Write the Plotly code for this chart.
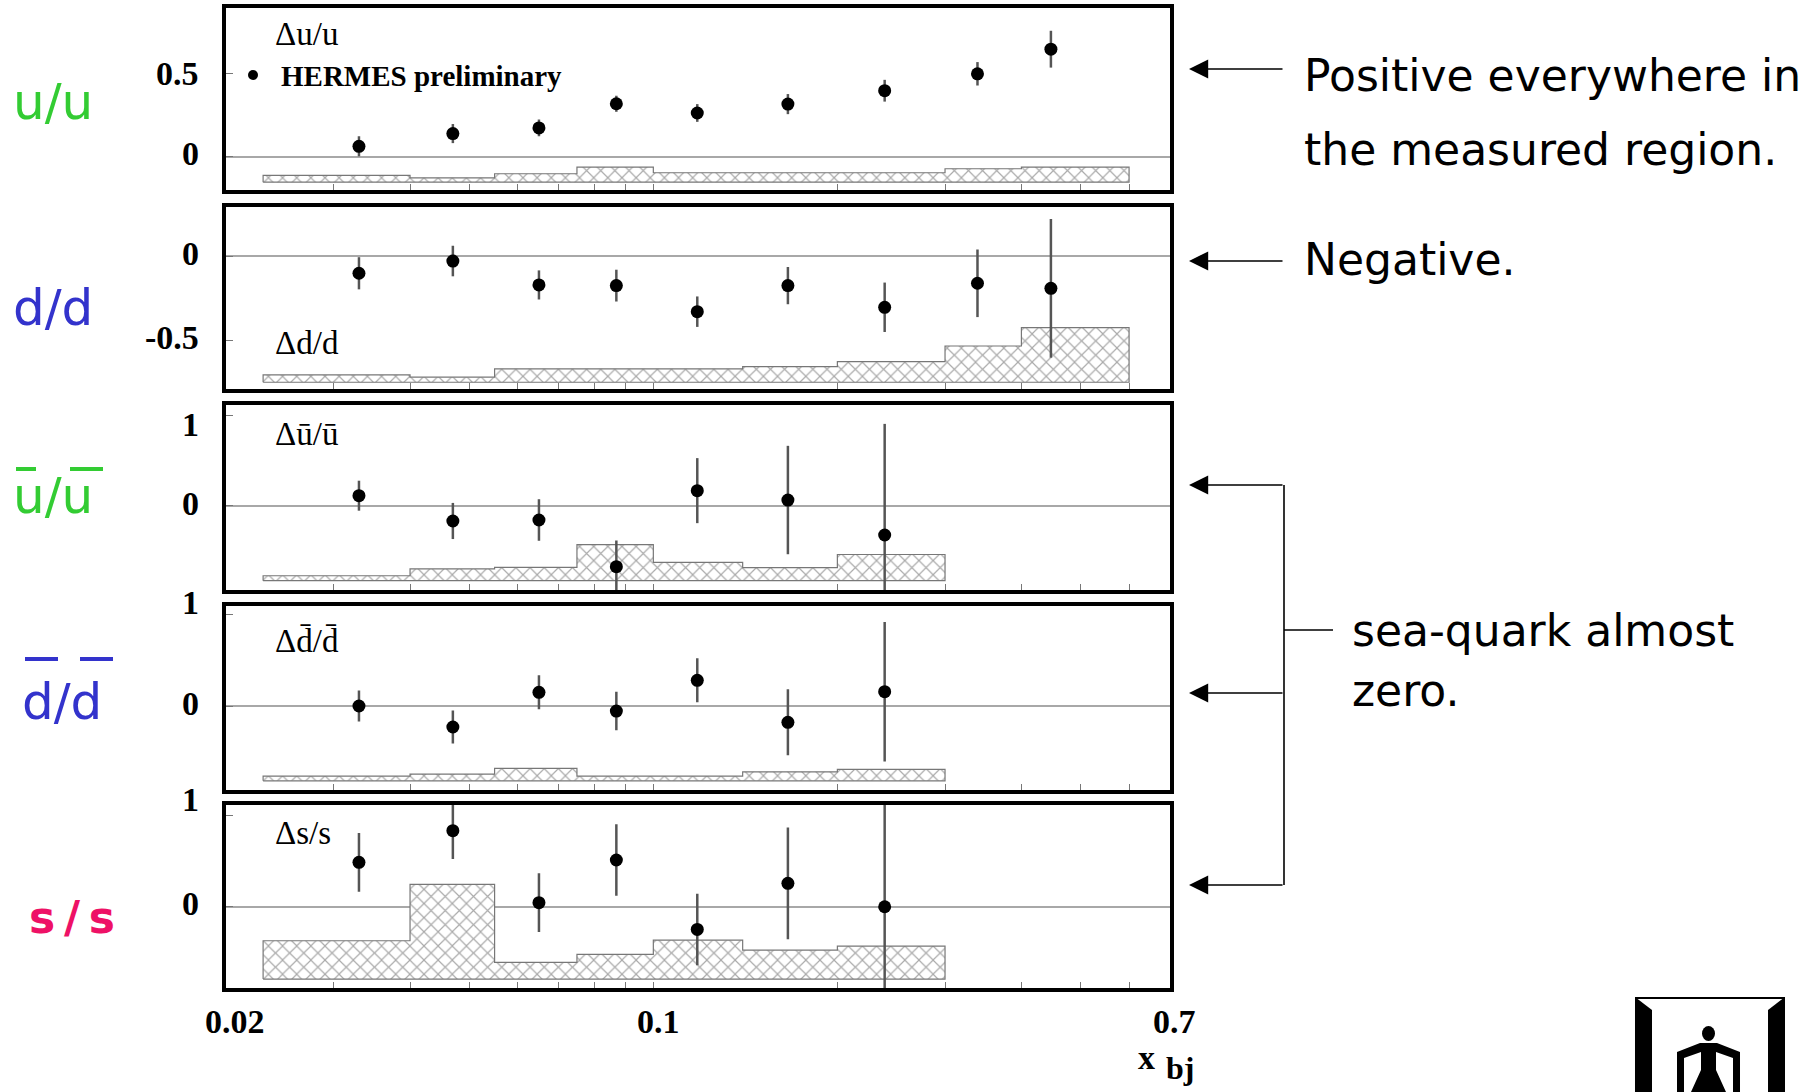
import math
import plotly.graph_objects as go

# ---------------- data ----------------
x_bins = [0.033, 0.047, 0.065, 0.087, 0.118, 0.166, 0.239, 0.339, 0.447]
bin_edges = [0.023, 0.04, 0.055, 0.075, 0.1, 0.14, 0.2, 0.3, 0.4, 0.6]

du_u = [0.063, 0.139, 0.173, 0.317, 0.262, 0.315, 0.395, 0.496, 0.643]
du_u_err = [0.06, 0.057, 0.05, 0.048, 0.053, 0.06, 0.065, 0.07, 0.11]
du_u_sys = [0.04, 0.026, 0.05, 0.09, 0.056, 0.056, 0.056, 0.08, 0.09]

dd_d = [-0.102, -0.03, -0.171, -0.175, -0.329, -0.175, -0.303, -0.161, -0.191]
dd_d_err = [0.095, 0.09, 0.086, 0.094, 0.09, 0.11, 0.146, 0.2, 0.41]
dd_d_sys = [0.043, 0.03, 0.079, 0.079, 0.079, 0.092, 0.122, 0.214, 0.323]

dub_ub = [0.114, -0.166, -0.155, -0.672, 0.17, 0.066, -0.321]
dub_ub_err = [0.166, 0.2, 0.23, 0.29, 0.36, 0.6, 1.23]
dub_ub_sys = [0.055, 0.13, 0.148, 0.4, 0.203, 0.144, 0.29]

ddb_db = [0.0, -0.229, 0.149, -0.055, 0.28, -0.178, 0.156]
ddb_db_err = [0.17, 0.18, 0.185, 0.21, 0.24, 0.36, 0.76]
ddb_db_sys = [0.051, 0.073, 0.135, 0.051, 0.051, 0.098, 0.124]

ds_s = [0.484, 0.83, 0.044, 0.51, -0.247, 0.255, 0.0]
ds_s_err = [0.32, 0.31, 0.32, 0.39, 0.39, 0.61, 1.2]
ds_s_sys = [0.418, 1.033, 0.183, 0.27, 0.425, 0.316, 0.36]

sys_band_base = [-0.151, -0.746, -0.827, -0.815, -0.789]

panel_names = ["\u0394u/u", "\u0394d/d", "\u0394\u016b/\u016b", "\u0394d\u0304/d\u0304", "\u0394s/s"]
y_ranges = [[-0.198, 0.889], [-0.786, 0.292], [-0.93, 1.118], [-0.91, 1.09], [-0.886, 1.115]]
y_ticks = [[0, 0.5], [0, -0.5], [0, 1], [0, 1], [0, 1]]
y_tick_text = [["0", "0.5"], ["0", "-0.5"], ["0", "1"], ["0", "1"], ["0", "1"]]
x_tick_labels = [0.02, 0.1, 0.7]
x_minor_ticks = [0.02, 0.03, 0.04, 0.05, 0.06, 0.07, 0.08, 0.09, 0.1, 0.2, 0.3, 0.4, 0.5, 0.6, 0.7]

values = [du_u, dd_d, dub_ub, ddb_db, ds_s]
errors = [du_u_err, dd_d_err, dub_ub_err, ddb_db_err, ds_s_err]
systs = [du_u_sys, dd_d_sys, dub_ub_sys, ddb_db_sys, ds_s_sys]

# ---------------- layout geometry (pixels) ----------------
W, H = 1810, 1092
def px(x):
    return x / W
def py(y):
    return 1 - y / H

panel_px = [(8, 190), (206.6, 389), (405, 590), (606, 789.5), (804.5, 988)]
x_dom = [px(226), px(1170)]

fig = go.Figure()
SERIF = "Liberation Serif"

for i in range(5):
    ax = "" if i == 0 else str(i + 1)
    n = len(values[i])
    xs = x_bins[:n]
    edges = bin_edges[:n + 1]
    base = sys_band_base[i]
    # systematic band polygon
    bx, by = [edges[0]], [base]
    for k in range(n):
        bx += [edges[k], edges[k + 1]]
        by += [base + systs[i][k], base + systs[i][k]]
    bx += [edges[n], edges[0]]
    by += [base, base]
    fig.add_trace(go.Scatter(
        x=bx, y=by, mode="lines", fill="toself",
        line=dict(color="#777777", width=1.2),
        fillcolor="rgba(0,0,0,0)",
        fillpattern=dict(shape="x", fgcolor="#555555", bgcolor="white", size=10, solidity=0.22),
        xaxis="x" + ax, yaxis="y" + ax, showlegend=False, hoverinfo="skip"))
    fig.add_trace(go.Scatter(
        x=xs, y=values[i], mode="markers",
        marker=dict(color="black", size=13, symbol="circle"),
        error_y=dict(type="data", array=errors[i], visible=True, color="#555555", thickness=2.5, width=0),
        xaxis="x" + ax, yaxis="y" + ax, showlegend=False, cliponaxis=True))

    top, bot = panel_px[i]
    fig.layout["xaxis" + ax] = dict(
        type="log", domain=x_dom, range=[math.log10(0.02), math.log10(0.7)],
        anchor="y" + ax, showgrid=False, zeroline=False,
        showline=True, mirror=True, linewidth=4, linecolor="black",
        ticks="inside", tickvals=x_minor_ticks, ticklen=6, tickcolor="#777", tickwidth=1,
        showticklabels=False)
    fig.layout["yaxis" + ax] = dict(
        domain=[py(bot), py(top)], range=y_ranges[i], anchor="x" + ax,
        showgrid=False, zeroline=True, zerolinecolor="#a8a8a8", zerolinewidth=1.5,
        showline=True, mirror=True, linewidth=4, linecolor="black",
        ticks="inside", tickvals=y_ticks[i], ticklen=7, tickcolor="#777",
        showticklabels=False)

annotations = []
# y tick labels (placed like the original)
ytick_shift = [[3, 0], [3, 3], [2, -9], [3, 12], [3, 16]]
for i in range(5):
    ax = "" if i == 0 else str(i + 1)
    for v, t, s in zip(y_ticks[i], y_tick_text[i], ytick_shift[i]):
        annotations.append(dict(xref="paper", yref="y" + ax, x=px(201), y=v, yshift=s,
                                text=t, showarrow=False, xanchor="right", yanchor="middle",
                                font=dict(family=SERIF, size=34, color="black", weight="bold")))
# x tick labels
xshift = [9, 5, 4]
for v, s in zip(x_tick_labels, xshift):
    annotations.append(dict(xref="x5", yref="paper", x=math.log10(v), y=py(1021), xshift=s,
                            text=str(v), showarrow=False, xanchor="center", yanchor="middle",
                            font=dict(family=SERIF, size=34, color="black", weight="bold")))
annotations.append(dict(xref="paper", yref="paper", x=px(1146), y=py(1057), text="x",
                        xanchor="center", yanchor="middle", showarrow=False,
                        font=dict(family=SERIF, size=34, color="black", weight="bold")))
annotations.append(dict(xref="paper", yref="paper", x=px(1180), y=py(1068), text="bj",
                        xanchor="center", yanchor="middle", showarrow=False,
                        font=dict(family=SERIF, size=32, color="black", weight="bold")))

# panel labels
label_y = [34, 343, 434, 641, 833]
for name, yy in zip(panel_names, label_y):
    annotations.append(dict(xref="paper", yref="paper", x=px(273), y=py(yy), text=name,
                            showarrow=False, xanchor="left", yanchor="middle",
                            font=dict(family=SERIF, size=33, color="black")))
annotations.append(dict(xref="paper", yref="paper", x=px(279), y=py(76), text="HERMES preliminary",
                        showarrow=False, xanchor="left", yanchor="middle",
                        font=dict(family=SERIF, size=29, color="black", weight="bold")))

# left coloured labels
green, blue, pink = "#33cc33", "#3333cc", "#ee1166"
left_labels = [("u/u", 53, 102, green), ("d/d", 53, 308, blue), ("u/u", 53, 496, green),
               ("d/d", 62, 702, blue), ("s\u2009/\u2009s", 72, 917, pink)]
for t, xx, yy, c in left_labels:
    annotations.append(dict(xref="paper", yref="paper", x=px(xx), y=py(yy), text=t,
                            showarrow=False, xanchor="center", yanchor="middle",
                            font=dict(family="DejaVu Sans", size=44 if c == pink else 50, color=c,
                                      weight="bold" if c == pink else "normal")))

# right side text
right_text = [("Positive everywhere in", 1302, 76), ("the measured region.", 1302, 150),
              ("Negative.", 1302, 259), ("sea-quark almost", 1350, 630), ("zero.", 1350, 690)]
for t, xx, yy in right_text:
    annotations.append(dict(xref="paper", yref="paper", x=px(xx), y=py(yy), text=t,
                            showarrow=False, xanchor="left", yanchor="middle",
                            font=dict(family="DejaVu Sans", size=44, color="black")))

# arrows
arrow_y = [69, 261, 485, 693, 885]
for yy in arrow_y:
    annotations.append(dict(xref="paper", yref="paper", x=px(1189), y=py(yy), ax=95, ay=0,
                            text="", showarrow=True, arrowhead=2, arrowsize=2.4, arrowwidth=1.6,
                            arrowcolor="black"))

shapes = []
# bracket
shapes.append(dict(type="line", xref="paper", yref="paper", x0=px(1284), x1=px(1284),
                   y0=py(485), y1=py(885), line=dict(color="black", width=1.6)))
shapes.append(dict(type="line", xref="paper", yref="paper", x0=px(1284), x1=px(1333),
                   y0=py(630), y1=py(630), line=dict(color="black", width=1.6)))
# overlines on left labels
for (x0, x1, yy, c) in [(16, 36, 469, green), (70, 103, 469, green),
                         (25, 58, 659, blue), (80, 113, 659, blue)]:
    shapes.append(dict(type="line", xref="paper", yref="paper", x0=px(x0), x1=px(x1),
                       y0=py(yy), y1=py(yy), line=dict(color=c, width=4)))
# legend bullet
shapes.append(dict(type="circle", xref="paper", yref="paper", x0=px(248), x1=px(258),
                   y0=py(80), y1=py(70), fillcolor="black", line=dict(color="black", width=0)))

# logo (bottom right)
def path(pts):
    return "M " + " L ".join(f"{px(a):.5f},{py(b):.5f}" for a, b in pts) + " Z"
shapes.append(dict(type="path", xref="paper", yref="paper",
                   path=path([(1635, 997), (1652, 1010), (1652, 1092), (1635, 1092)]),
                   fillcolor="black", line=dict(width=0)))
shapes.append(dict(type="path", xref="paper", yref="paper",
                   path=path([(1785, 997), (1768, 1010), (1768, 1092), (1785, 1092)]),
                   fillcolor="black", line=dict(width=0)))
shapes.append(dict(type="line", xref="paper", yref="paper", x0=px(1635), x1=px(1785),
                   y0=py(998), y1=py(998), line=dict(color="black", width=2)))
shapes.append(dict(type="path", xref="paper", yref="paper",
                   path=path([(1677, 1092), (1677, 1052), (1700, 1043), (1717, 1043), (1740, 1052),
                              (1740, 1092), (1733, 1092), (1733, 1058), (1716, 1052), (1716, 1070),
                              (1726, 1092), (1691, 1092), (1701, 1070), (1701, 1052), (1684, 1058),
                              (1684, 1092)]),
                   fillcolor="black", line=dict(width=0)))
shapes.append(dict(type="circle", xref="paper", yref="paper", x0=px(1702), x1=px(1715),
                   y0=py(1041), y1=py(1026), fillcolor="black", line=dict(width=0)))

fig.update_layout(width=W, height=H, margin=dict(l=0, r=0, t=0, b=0),
                  paper_bgcolor="white", plot_bgcolor="white",
                  annotations=annotations, shapes=shapes, showlegend=False)

fig.write_html("out.html", config={"displayModeBar": False},
               post_script="document.body.style.margin='0';document.body.style.overflow='hidden';"
                           "document.documentElement.style.overflow='hidden';")
